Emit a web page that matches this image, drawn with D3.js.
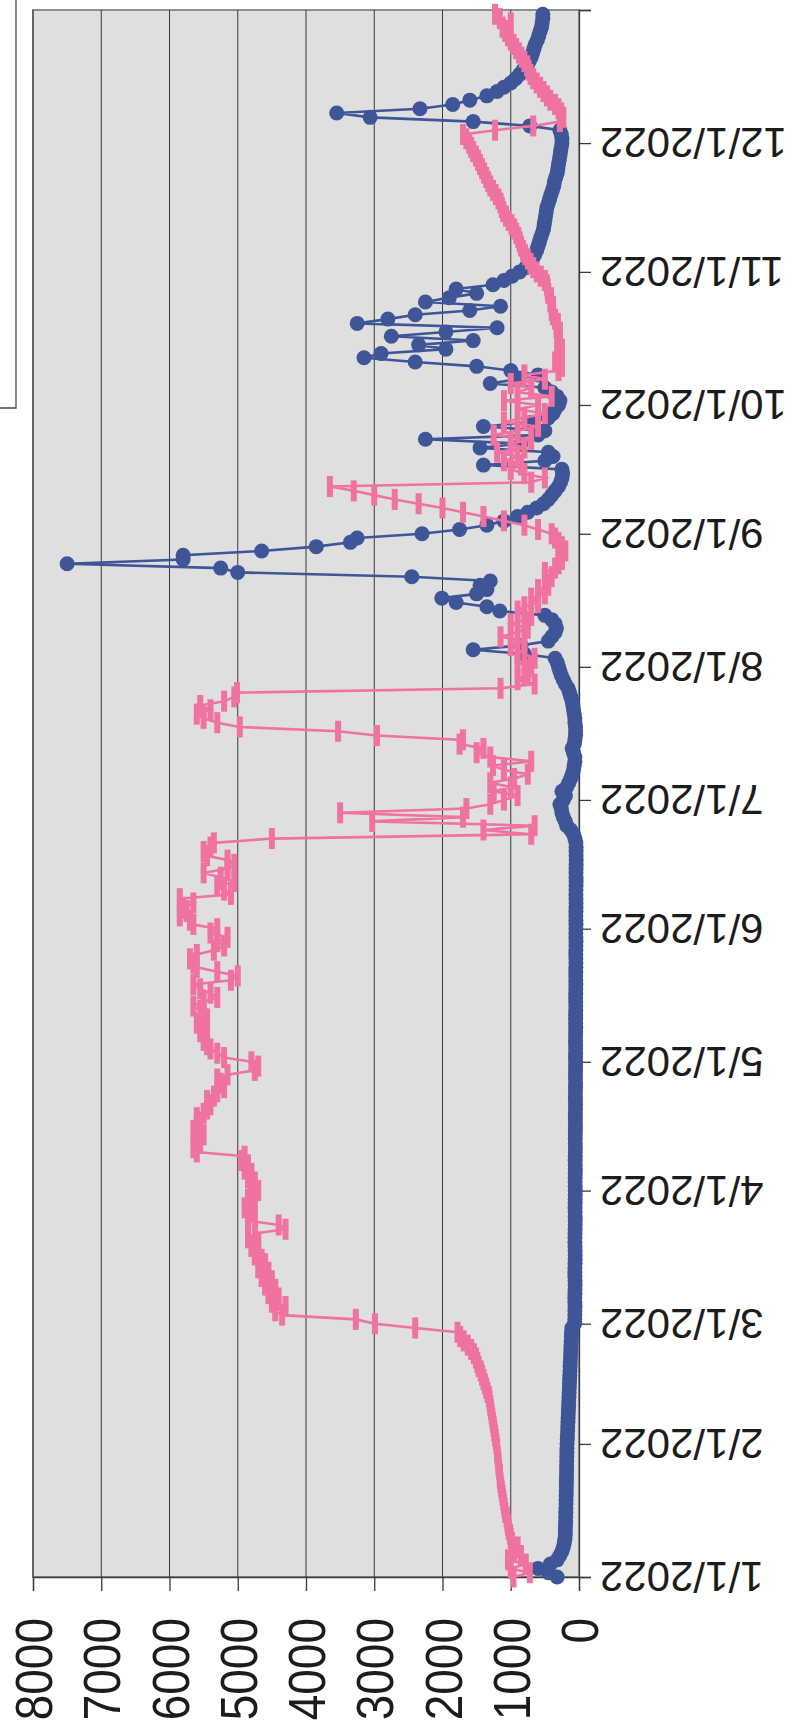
<!DOCTYPE html>
<html>
<head>
<meta charset="utf-8">
<script src="https://d3js.org/d3.v7.min.js"></script>
<style>
  html, body { margin: 0; padding: 0; background: #fff; }
  svg { display: block; }
  text { font-family: "Liberation Sans", Arial, sans-serif; fill: #1c1c1c; }
</style>
</head>
<body>
<svg id="chart"></svg>
<script>
// daily values, 1/1/2022 .. 12/31/2022, one row per month
const pinkDaily = [
  960, 720, 1000, 780, 1040, 850, 950, 900, 980, 1000, 1010, 1030, 1040, 1050, 1060, 1080, 1090, 1100, 1110, 1120, 1130, 1140, 1150, 1160, 1160, 1170, 1180, 1180, 1190, 1200, 1200,
  1210, 1220, 1230, 1240, 1250, 1260, 1270, 1280, 1290, 1300, 1310, 1320, 1340, 1360, 1380, 1400, 1420, 1440, 1470, 1490, 1510, 1540, 1580, 1630, 1690, 1740, 1780, 2400,
  2990, 3270, 4350, 4450, 4300, 4500, 4400, 4550, 4450, 4600, 4500, 4650, 4550, 4700, 4600, 4650, 4750, 4700, 4800, 4700, 4850, 4750, 4300, 4400, 4850, 4750, 4800, 4900, 4750, 4850, 4800,
  4700, 4800, 4750, 4850, 4800, 4900, 4850, 4950, 4900, 5600, 5650, 5550, 5600, 5500, 5650, 5600, 5550, 5600, 5500, 5450, 5400, 5450, 5350, 5300, 5200, 5250, 5300, 5150, 4750, 4700,
  4800, 5200, 5300, 5400, 5450, 5500, 5450, 5550, 5500, 5600, 5450, 5500, 5550, 5650, 5500, 5300, 5400, 5550, 5650, 5100, 5000, 5300, 5600, 5650, 5700, 5600, 5350, 5200, 5300, 5150, 5400,
  5300, 5650, 5700, 5850, 5750, 5800, 5650, 5850, 5100, 5200, 5300, 5050, 5250, 5500, 5150, 5050, 5150, 5450, 5500, 5400, 5350, 4500, 700, 1400, 650, 3030, 1700, 3500, 1650, 1300,
  1100, 900, 1250, 1000, 1300, 950, 750, 1100, 1260, 700, 1300, 1500, 1400, 1750, 1700, 2960, 3530, 4970, 5300, 5500, 5600, 5400, 5550, 5200, 5050, 5010, 1150, 650, 900, 800, 750,
  700, 900, 650, 800, 900, 1000, 800, 1150, 900, 750, 1000, 800, 700, 900, 800, 600, 700, 500, 600, 450, 500, 400, 500, 350, 300, 250, 300, 200, 250, 300, 350,
  400, 600, 800, 1100, 1400, 1700, 2000, 2350, 2700, 3000, 3300, 3650, 700, 500, 800, 1000, 850, 1100, 900, 1200, 800, 1000, 700, 1250, 900, 600, 1100, 800, 500, 900,
  600, 1100, 400, 900, 700, 1000, 500, 800, 300, 250, 350, 280, 300, 250, 320, 280, 300, 280, 330, 310, 350, 380, 400, 380, 420, 410, 450, 460, 470, 500, 560,
  620, 670, 710, 750, 790, 820, 850, 870, 890, 920, 950, 990, 1030, 1070, 1110, 1130, 1150, 1180, 1220, 1260, 1300, 1330, 1360, 1390, 1420, 1450, 1480, 1510, 1550, 1580,
  1610, 1650, 1700, 1230, 670, 280, 230, 260, 300, 350, 420, 470, 520, 570, 620, 670, 710, 740, 760, 800, 840, 880, 920, 960, 1000, 1040, 1080, 1120, 1000, 1160, 1230,
];

const blueDaily = [
  320, 450, 600, 420, 320, 280, 250, 230, 215, 205, 200, 200, 198, 196, 195, 193, 192, 190, 190, 188, 187, 186, 185, 184, 183, 182, 181, 180, 179, 178, 177,
  175, 172, 170, 167, 165, 162, 160, 157, 155, 152, 150, 147, 145, 142, 140, 137, 135, 132, 130, 127, 125, 122, 120, 117, 115, 112, 110, 105,
  65, 62, 60, 60, 58, 60, 62, 60, 58, 57, 58, 60, 61, 60, 58, 57, 56, 57, 58, 60, 59, 58, 57, 56, 55, 56, 57, 58, 57, 56, 55,
  55, 56, 57, 56, 55, 54, 55, 56, 55, 54, 53, 54, 55, 54, 53, 52, 53, 54, 53, 52, 51, 52, 53, 52, 51, 50, 51, 52, 51, 50,
  50, 51, 50, 49, 50, 51, 50, 49, 48, 49, 50, 49, 48, 47, 48, 49, 48, 47, 46, 47, 48, 47, 46, 45, 46, 47, 46, 45, 44, 45, 46,
  45, 44, 45, 46, 45, 44, 43, 44, 45, 44, 43, 42, 43, 44, 43, 42, 41, 42, 43, 42, 45, 60, 80, 120, 180, 200, 230, 250, 260, 280,
  230, 200, 250, 180, 150, 120, 100, 80, 70, 60, 60, 80, 100, 70, 60, 50, 50, 50, 60, 60, 70, 80, 90, 100, 120, 140, 160, 200, 230, 260, 280,
  300, 320, 350, 800, 1550, 850, 450, 400, 350, 330, 350, 400, 500, 1160, 1350, 1800, 2010, 1500, 1350, 1450, 1300, 2450, 5000, 5250, 7500, 5800, 5800, 4650, 3850, 3350, 3250,
  2300, 1750, 1350, 1100, 900, 750, 620, 520, 450, 400, 350, 300, 270, 250, 240, 250, 1400, 500, 380, 450, 1450, 850, 2250, 600, 500, 1400, 700, 450, 380, 350,
  300, 280, 320, 400, 500, 1300, 900, 600, 1000, 1500, 2400, 3150, 2900, 1950, 2350, 1550, 2750, 1950, 1200, 3250, 2800, 2400, 1600, 1150, 2250, 1900, 1500, 1800, 1260, 1100, 980,
  870, 780, 720, 680, 650, 620, 600, 580, 560, 540, 520, 510, 500, 490, 480, 470, 450, 430, 410, 390, 370, 360, 340, 320, 310, 300, 290, 280, 270, 260,
  250, 250, 260, 280, 720, 1550, 3060, 3550, 2330, 1850, 1600, 1350, 1200, 1100, 1000, 930, 870, 820, 760, 730, 700, 680, 660, 640, 610, 590, 570, 550, 540, 530, 530,
];

const valueTicks = [0, 1000, 2000, 3000, 4000, 5000, 6000, 7000, 8000];
const monthLabels = [
  '1/1/2022', '2/1/2022', '3/1/2022', '4/1/2022', '5/1/2022', '6/1/2022',
  '7/1/2022', '8/1/2022', '9/1/2022', '10/1/2022', '11/1/2022', '12/1/2022',
];

const BLUE = '#3e5597';
const PINK = '#ef72a1';

const width = 794;
const height = 1733;
// plot box (chart is printed turned: values run right-to-left, dates bottom-to-top)
const plot = { left: 33, right: 579, top: 10, bottom: 1577 };

const start = new Date(2022, 0, 1);
const end = new Date(2023, 0, 1);

const svg = d3.select('#chart').attr('width', width).attr('height', height);

const x = d3.scaleLinear().domain([0, 8000]).range([plot.right, plot.left]);
const y = d3.scaleTime().domain([start, end]).range([plot.bottom, plot.top]);

const toPoints = values => {
  return values.map((v, i) => {
    return { date: d3.timeDay.offset(start, i), value: v };
  });
};
const pink = toPoints(pinkDaily);
const blue = toPoints(blueDaily);

// legend box edge, cut by the page
svg.append('path')
  .attr('d', 'M16,0 V408 H0')
  .attr('fill', 'none')
  .attr('stroke', '#4a4a4a')
  .attr('stroke-width', 1.3);

svg.append('rect')
  .attr('x', plot.left)
  .attr('y', plot.top)
  .attr('width', plot.right - plot.left)
  .attr('height', plot.bottom - plot.top)
  .attr('fill', '#dfdfdf')
  .attr('stroke', '#8f8f8f')
  .attr('stroke-width', 2);

// gridlines
svg.append('g')
  .selectAll('line')
  .data(valueTicks.slice(1))
  .enter()
  .append('line')
  .attr('x1', d => x(d))
  .attr('x2', d => x(d))
  .attr('y1', plot.top)
  .attr('y2', plot.bottom)
  .attr('stroke', '#3a3a3a')
  .attr('stroke-width', 1);

// value axis (bottom)
const valueAxis = svg.append('g')
  .attr('transform', `translate(0,${plot.bottom})`)
  .call(
    d3.axisBottom(x)
      .tickValues(valueTicks)
      .tickSize(14)
      .tickPadding(0)
      .tickFormat(d3.format('d'))
  );
valueAxis.select('.domain').attr('stroke', '#3a3a3a').attr('stroke-width', 1.3);
valueAxis.selectAll('.tick line').attr('stroke', '#3a3a3a').attr('stroke-width', 1.3);
valueAxis.selectAll('.tick text')
  .attr('x', null)
  .attr('y', null)
  .attr('dy', '0.36em')
  .attr('text-anchor', 'end')
  .attr('transform', 'translate(0,41) rotate(-90) scale(1,1.12)')
  .style('font-size', '46px')
  .style('fill', '#1c1c1c');

// date axis (right)
const monthTicks = d3.timeMonth.range(start, d3.timeDay.offset(end, 1));
const dateAxis = svg.append('g')
  .attr('transform', `translate(${plot.right},0)`)
  .call(
    d3.axisRight(y)
      .tickValues(monthTicks)
      .tickSize(12)
      .tickFormat((d, i) => monthLabels[i] || '')
  );
dateAxis.select('.domain').attr('stroke', '#3a3a3a').attr('stroke-width', 1.3);
dateAxis.selectAll('.tick line').attr('stroke', '#3a3a3a').attr('stroke-width', 1.3);
dateAxis.selectAll('.tick text')
  .attr('x', null)
  .attr('dy', '0.36em')
  .attr('text-anchor', 'end')
  .attr('transform', 'translate(21,0) rotate(180)')
  .style('font-size', '42px')
  .style('fill', '#1c1c1c');

const line = d3.line()
  .x(d => x(d.value))
  .y(d => y(d.date));

const series = svg.append('g');

// blue series: line with round markers
series.append('path')
  .datum(blue)
  .attr('d', line)
  .attr('fill', 'none')
  .attr('stroke', BLUE)
  .attr('stroke-width', 2.6);
series.append('g')
  .selectAll('circle')
  .data(blue)
  .enter()
  .append('circle')
  .attr('cx', d => x(d.value))
  .attr('cy', d => y(d.date))
  .attr('r', 7.5)
  .attr('fill', BLUE);

// pink series: line with dash markers
series.append('path')
  .datum(pink)
  .attr('d', line)
  .attr('fill', 'none')
  .attr('stroke', PINK)
  .attr('stroke-width', 2.6);
series.append('g')
  .selectAll('rect')
  .data(pink)
  .enter()
  .append('rect')
  .attr('x', d => x(d.value) - 3)
  .attr('y', d => y(d.date) - 10.5)
  .attr('width', 6)
  .attr('height', 21)
  .attr('fill', PINK);
</script>
</body>
</html>
